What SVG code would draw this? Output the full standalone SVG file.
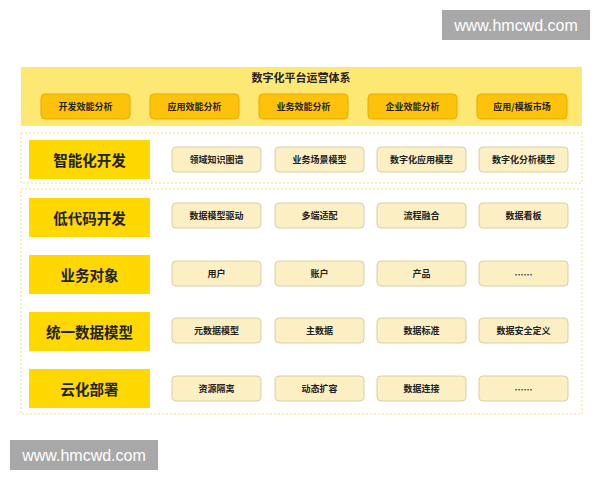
<svg xmlns="http://www.w3.org/2000/svg" width="600" height="480" viewBox="0 0 600 480">
<style>
text{font-family:"Noto Sans CJK SC","Liberation Sans",sans-serif;font-weight:bold;fill:#222;text-anchor:middle;dominant-baseline:central}
.band{fill:#FDE874}
.btn{fill:#FFC20A;stroke:#E6AA00;stroke-width:1}
.btn-t{font-size:9px}
.frame{fill:#fff;stroke:#F3E27E;stroke-width:1;stroke-dasharray:2 2}
.lbl{fill:#FFD800}
.lbl-t{font-size:14.5px}
.item{fill:#FCEFC3;stroke:#D8CFA4;stroke-width:1}
.item-t{font-size:9px}
.wm{fill:#A8A8A8}
.wm-t{font-family:"Liberation Sans",Arial,sans-serif;font-weight:normal;fill:#fff;font-size:16px}
</style>
<rect width="600" height="480" fill="#fff"/>

<g id="watermark-top"><rect class="wm" x="442" y="10" width="148" height="30"/><text class="wm-t" x="516" y="25">www.hmcwd.com</text></g>

<g id="ops-system">
<rect class="band" x="21" y="67" width="561" height="59"/>
<text x="301" y="77" font-size="11">数字化平台运营体系</text>
</g>
<g id="btn1"><rect class="btn" x="41" y="94" width="89" height="25" rx="4"/><text class="btn-t" x="85.5" y="106.5">开发效能分析</text></g>
<g id="btn2"><rect class="btn" x="150" y="94" width="89" height="25" rx="4"/><text class="btn-t" x="194.5" y="106.5">应用效能分析</text></g>
<g id="btn3"><rect class="btn" x="259" y="94" width="89" height="25" rx="4"/><text class="btn-t" x="303.5" y="106.5">业务效能分析</text></g>
<g id="btn4"><rect class="btn" x="368" y="94" width="89" height="25" rx="4"/><text class="btn-t" x="412.5" y="106.5">企业效能分析</text></g>
<g id="btn5"><rect class="btn" x="477" y="94" width="90" height="25" rx="4"/><text class="btn-t" x="522" y="106.5">应用/模板市场</text></g>

<g id="frame1"><rect class="frame" x="21" y="133" width="561" height="50"/></g>
<g id="frame2"><rect class="frame" x="21" y="189" width="561" height="225"/></g>

<g id="row-ai">
<rect class="lbl" x="29" y="140" width="121" height="39"/><text class="lbl-t" x="89.5" y="159.5">智能化开发</text>
</g>
<g id="ai-1"><rect class="item" x="172" y="147" width="89" height="25" rx="4"/><text class="item-t" x="216.5" y="159.5">领域知识图谱</text></g>
<g id="ai-2"><rect class="item" x="275" y="147" width="89" height="25" rx="4"/><text class="item-t" x="319.5" y="159.5">业务场景模型</text></g>
<g id="ai-3"><rect class="item" x="377" y="147" width="89" height="25" rx="4"/><text class="item-t" x="421.5" y="159.5">数字化应用模型</text></g>
<g id="ai-4"><rect class="item" x="479" y="147" width="89" height="25" rx="4"/><text class="item-t" x="523.5" y="159.5">数字化分析模型</text></g>

<g id="row-lowcode">
<rect class="lbl" x="29" y="198" width="121" height="39"/><text class="lbl-t" x="89.5" y="217.5">低代码开发</text>
</g>
<g id="lc-1"><rect class="item" x="172" y="203" width="89" height="25" rx="4"/><text class="item-t" x="216.5" y="215.5">数据模型驱动</text></g>
<g id="lc-2"><rect class="item" x="275" y="203" width="89" height="25" rx="4"/><text class="item-t" x="319.5" y="215.5">多端适配</text></g>
<g id="lc-3"><rect class="item" x="377" y="203" width="89" height="25" rx="4"/><text class="item-t" x="421.5" y="215.5">流程融合</text></g>
<g id="lc-4"><rect class="item" x="479" y="203" width="89" height="25" rx="4"/><text class="item-t" x="523.5" y="215.5">数据看板</text></g>

<g id="row-biz">
<rect class="lbl" x="29" y="255" width="121" height="39"/><text class="lbl-t" x="89.5" y="274.5">业务对象</text>
</g>
<g id="biz-1"><rect class="item" x="172" y="261" width="89" height="25" rx="4"/><text class="item-t" x="216.5" y="273">用户</text></g>
<g id="biz-2"><rect class="item" x="275" y="261" width="89" height="25" rx="4"/><text class="item-t" x="319.5" y="273">账户</text></g>
<g id="biz-3"><rect class="item" x="377" y="261" width="89" height="25" rx="4"/><text class="item-t" x="421.5" y="273">产品</text></g>
<g id="biz-4"><rect class="item" x="479" y="261" width="89" height="25" rx="4"/><text class="item-t" x="523.5" y="274">……</text></g>

<g id="row-model">
<rect class="lbl" x="29" y="312" width="121" height="39"/><text class="lbl-t" x="89.5" y="331.5">统一数据模型</text>
</g>
<g id="md-1"><rect class="item" x="172" y="318" width="89" height="25" rx="4"/><text class="item-t" x="216.5" y="330.5">元数据模型</text></g>
<g id="md-2"><rect class="item" x="275" y="318" width="89" height="25" rx="4"/><text class="item-t" x="319.5" y="330.5">主数据</text></g>
<g id="md-3"><rect class="item" x="377" y="318" width="89" height="25" rx="4"/><text class="item-t" x="421.5" y="330.5">数据标准</text></g>
<g id="md-4"><rect class="item" x="479" y="318" width="89" height="25" rx="4"/><text class="item-t" x="523.5" y="330.5">数据安全定义</text></g>

<g id="row-cloud">
<rect class="lbl" x="29" y="369" width="121" height="39"/><text class="lbl-t" x="89.5" y="388.5">云化部署</text>
</g>
<g id="cl-1"><rect class="item" x="172" y="376" width="89" height="25" rx="4"/><text class="item-t" x="216.5" y="388.5">资源隔离</text></g>
<g id="cl-2"><rect class="item" x="275" y="376" width="89" height="25" rx="4"/><text class="item-t" x="319.5" y="388.5">动态扩容</text></g>
<g id="cl-3"><rect class="item" x="377" y="376" width="89" height="25" rx="4"/><text class="item-t" x="421.5" y="388.5">数据连接</text></g>
<g id="cl-4"><rect class="item" x="479" y="376" width="89" height="25" rx="4"/><text class="item-t" x="523.5" y="389.5">……</text></g>

<g id="watermark-bottom"><rect class="wm" x="10" y="440" width="148" height="30"/><text class="wm-t" x="84" y="455">www.hmcwd.com</text></g>

<g id="connectors"></g>
</svg>
